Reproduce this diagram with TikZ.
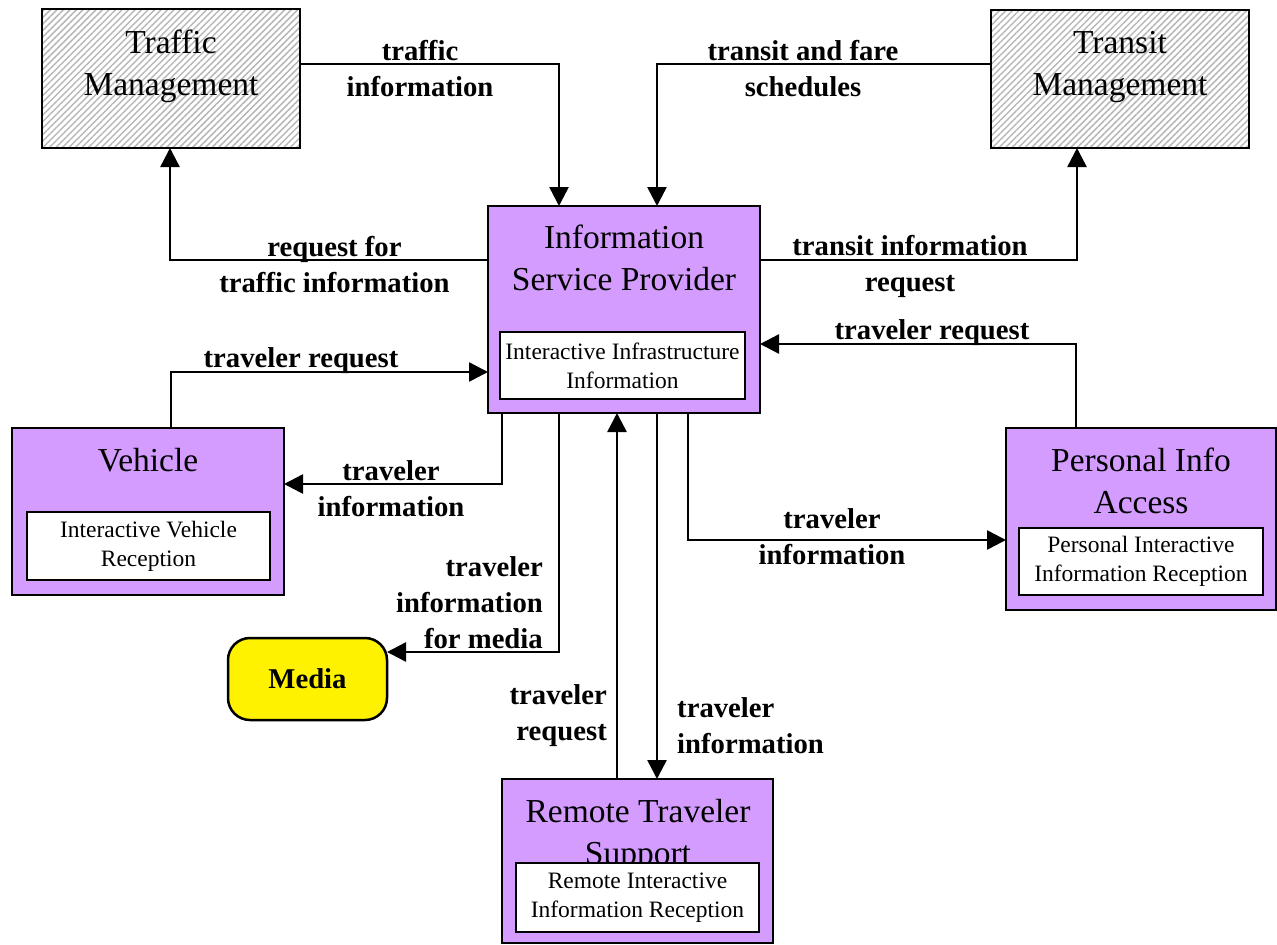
\documentclass[tikz,border=0pt]{standalone}
\usepackage{fontspec}
\setmainfont{Liberation Serif}
\usetikzlibrary{arrows.meta,patterns.meta,calc}
\definecolor{lilac}{RGB}{212,156,255}
\newcommand\ttlfont{\fontsize{33.5}{41.5}\selectfont}
\newcommand\lblfont{\fontsize{28.7}{36}\selectfont\bfseries}
\newcommand\inrfont{\fontsize{23.5}{29}\selectfont}
\tikzset{
  ext/.style={draw, line width=2.6pt, inner sep=0pt, outer sep=0pt,
    pattern={Lines[angle=45,distance=4.6pt,line width=1.5pt]}, pattern color=black!28},
  sub/.style={draw, line width=2.6pt, fill=lilac, inner sep=0pt, outer sep=0pt},
  inner/.style={draw, line width=2.4pt, fill=white, inner sep=0pt, outer sep=0pt, align=center, font=\inrfont},
  ttl/.style={font=\ttlfont, align=center, anchor=base, inner sep=0pt},
  lbl/.style={font=\lblfont, align=center, anchor=base, inner sep=0pt},
  arr/.style={line width=2.5pt, -{Triangle[length=19pt,width=19pt]}},
}
\begin{document}
\begin{tikzpicture}[x=1pt,y=-1pt]
\useasboundingbox (0,0) rectangle (1277,945);
% external boxes
\node[ext, minimum width=258pt, minimum height=139pt] (tm) at (171,78.5) {};
\node[ttl] (tmt) at (171,95) {Traffic\\Management};
\node[ext, minimum width=258pt, minimum height=138pt] (trm) at (1120,79) {};
\node[ttl] (trmt) at (1120,95) {Transit\\Management};
% ISP
\node[sub, minimum width=272pt, minimum height=207pt] (isp) at (624,309.5) {};
\node[ttl] (ispt) at (624,290) {Information\\Service Provider};
\node[inner, minimum width=245pt, minimum height=67pt] (ispi) at (622.5,365.5) {Interactive Infrastructure\\Information};
% Vehicle
\node[sub, minimum width=272pt, minimum height=167pt] (veh) at (148,511.5) {};
\node[ttl] (veht) at (148,471) {Vehicle};
\node[inner, minimum width=243pt, minimum height=68pt] (vehi) at (148.5,546) {Interactive Vehicle\\Reception};
% Personal Info Access
\node[sub, minimum width=270pt, minimum height=182pt] (pia) at (1141,519) {};
\node[ttl] (piat) at (1141,513) {Personal Info\\Access};
\node[inner, minimum width=244pt, minimum height=67pt] (piai) at (1141,561.5) {Personal Interactive\\Information Reception};
% Remote Traveler Support
\node[sub, minimum width=271pt, minimum height=164pt] (rts) at (637.5,861) {};
\node[ttl] (rtst) at (638,864) {Remote Traveler\\Support};
\node[inner, minimum width=243pt, minimum height=69pt] (rtsi) at (637.5,897.5) {Remote Interactive\\Information Reception};
% Media
\node[draw, line width=2.5pt, fill=yellow, rounded corners=22pt, minimum width=159pt, minimum height=82pt, inner sep=0pt, outer sep=0pt] (media) at (307.5,679) {};
\node[lbl] (mediat) at (307.5,688) {Media};
% connectors
\draw[arr] (tm.east |- 0,64) -| ([xshift=-65pt]isp.north);
\draw[arr] (trm.west |- 0,64) -| ([xshift=33pt]isp.north);
\draw[arr] (isp.west |- 0,260) -| (tm.south -| 170,0);
\draw[arr] (isp.east |- 0,260) -| (trm.south -| 1077,0);
\draw[arr] (pia.north -| 1076,0) |- (isp.east |- 0,344);
\draw[arr] (veh.north -| 171,0) |- (isp.west |- 0,372);
\draw[arr] ([xshift=-122pt]isp.south) |- (veh.east |- 0,484);
\draw[arr] ([xshift=-65pt]isp.south) |- (media.east |- 0,652);
\draw[arr] (rts.north -| 617,0) -- (isp.south -| 617,0);
\draw[arr] ([xshift=33pt]isp.south) -- (rts.north -| 657,0);
\draw[arr] ([xshift=64pt]isp.south) |- (pia.west |- 0,540);
% labels (anchor = baseline of last line)
\node[lbl] (l1) at (420,96) {traffic\\information};
\node[lbl] (l2) at (803,96) {transit and fare\\schedules};
\node[lbl] (l3) at (334.5,292) {request for\\traffic information};
\node[lbl] (l4) at (910,291) {transit information\\request};
\node[lbl] (l5) at (932,339) {traveler request};
\node[lbl] (l6) at (301,367) {traveler request};
\node[lbl] (l7) at (391,516) {traveler\\information};
\node[lbl, align=right, anchor=base east] (l8) at (543,648) {traveler\\information\\for media};
\node[lbl, align=right, anchor=base east] (l9) at (607,740) {traveler\\request};
\node[lbl, align=left, anchor=base west] (l10) at (677,753) {traveler\\information};
\node[lbl] (l11) at (832,564) {traveler\\information};
\end{tikzpicture}
\end{document}
